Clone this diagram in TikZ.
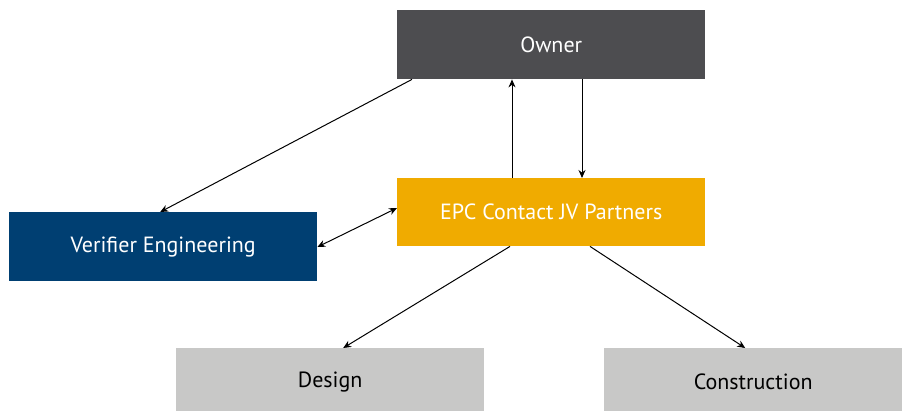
\documentclass[tikz,border=0pt]{standalone}
\usepackage{fontspec}
\setmainfont{PT Sans}
\usetikzlibrary{arrows.meta}
\definecolor{ownergray}{HTML}{4D4D50}
\definecolor{epcorange}{HTML}{F0AB00}
\definecolor{verblue}{HTML}{003F72}
\definecolor{lightgr}{HTML}{C8C8C7}
\begin{document}
\begin{tikzpicture}[x=1pt,y=-1pt,
  box/.style={rectangle, inner sep=0pt, anchor=north west, font=\fontsize{22}{26}\selectfont},
  conn/.style={line width=1pt, -{Stealth[length=8pt,width=7pt]}},
  bconn/.style={line width=1pt, {Stealth[length=8pt,width=7pt]}-{Stealth[length=8pt,width=7pt]}}]
\useasboundingbox[fill=white] (0,0) rectangle (902,410);
\node[box, fill=ownergray, text=white, minimum width=308pt, minimum height=69pt] (owner) at (397,10) {Owner};
\node[box, fill=epcorange, text=white, minimum width=308pt, minimum height=68pt] (epc) at (397,178) {EPC Contact JV Partners};
\node[box, fill=verblue, text=white, minimum width=308pt, minimum height=69pt] (ver) at (9,212) {Verifier Engineering};
\node[box, fill=lightgr, text=black, minimum width=308pt, minimum height=68pt] (design) at (176,348) {Design};
\node[box, fill=lightgr, text=black, minimum width=298pt, minimum height=68pt] (cons) at (604,348) {Construction};
\draw[conn] ([xshift=15pt]owner.south west) -- ([xshift=-3pt]ver.north);
\draw[conn] ([xshift=115pt]epc.north west) -- ([xshift=115pt]owner.south west);
\draw[conn] ([xshift=185pt]owner.south west) -- ([xshift=185pt]epc.north west);
\draw[bconn] ([yshift=-35pt]ver.north east) -- ([yshift=-30pt]epc.north west);
\draw[conn] ([xshift=113pt]epc.south west) -- ([xshift=13pt]design.north);
\draw[conn] ([xshift=193pt]epc.south west) -- ([xshift=-8pt]cons.north);
\end{tikzpicture}
\end{document}
